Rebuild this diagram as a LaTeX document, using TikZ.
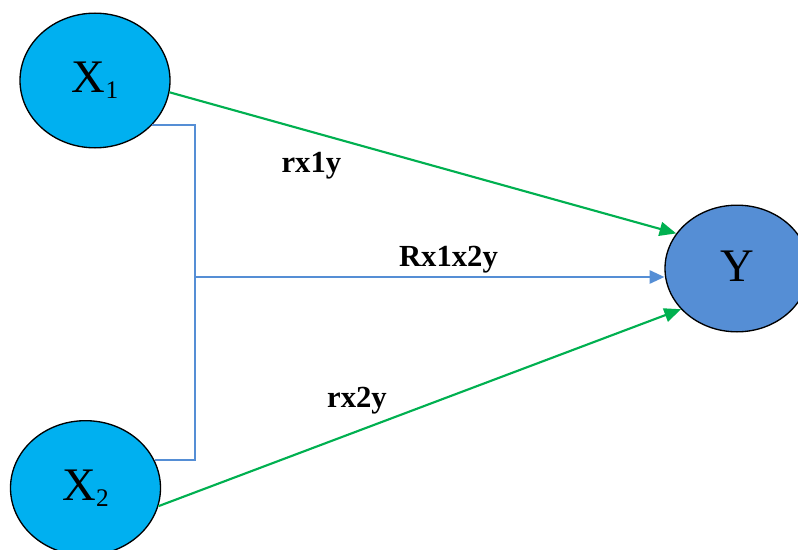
\documentclass[tikz,border=0pt]{standalone}
\usepackage{fontspec}
\setmainfont{Liberation Serif}
\usetikzlibrary{shapes.geometric,arrows.meta}
\definecolor{varcyan}{HTML}{00B0F0}
\definecolor{varblue}{HTML}{558ED5}
\definecolor{pathgreen}{HTML}{00B050}

\begin{document}
\begin{tikzpicture}[x=0.75pt,y=-0.75pt,
  var/.style={ellipse,draw=black,line width=1pt,fill=varcyan,inner sep=0pt,
    minimum width=112.5pt,minimum height=101pt,font=\fontsize{35}{35}\selectfont},
  effect/.style={draw=pathgreen,line width=1.6pt,-{Triangle[length=12.5pt,width=10.5pt]}},
  joint/.style={draw=varblue,line width=1.2pt},
  lbl/.style={font=\fontsize{23}{23}\selectfont\bfseries}]
\useasboundingbox (0,0) rectangle (798,549);
\node [var] (x1) at (95,80.5) {X\raisebox{-0.12em}{\fontsize{19}{19}\selectfont 1}};
\node [var] (x2) at (85.5,488) {X\raisebox{-0.12em}{\fontsize{19}{19}\selectfont 2}};
\node [var,fill=varblue,minimum width=108pt,minimum height=95pt] (y) at (737,268.5) {\raisebox{0.1em}{Y}};
\coordinate (j) at (195,277);
% paths to Y
\draw [effect] (x1.-9) -- (y.150) node [pos=0.28,below=11pt,lbl] (r1) {rx1y};
\draw [effect] (x2.-14) -- (y.-144) node [pos=0.38,above=9pt,lbl] (r2) {rx2y};
\draw [joint] (x1.-38) -| (j) |- (x2.22);
\draw [joint,-{Triangle[length=11pt,width=10pt]}] (j) -- (j -| y.west)
  node [pos=0.54,above=-1pt,lbl] (r12) {Rx1x2y};
\end{tikzpicture}
\end{document}
